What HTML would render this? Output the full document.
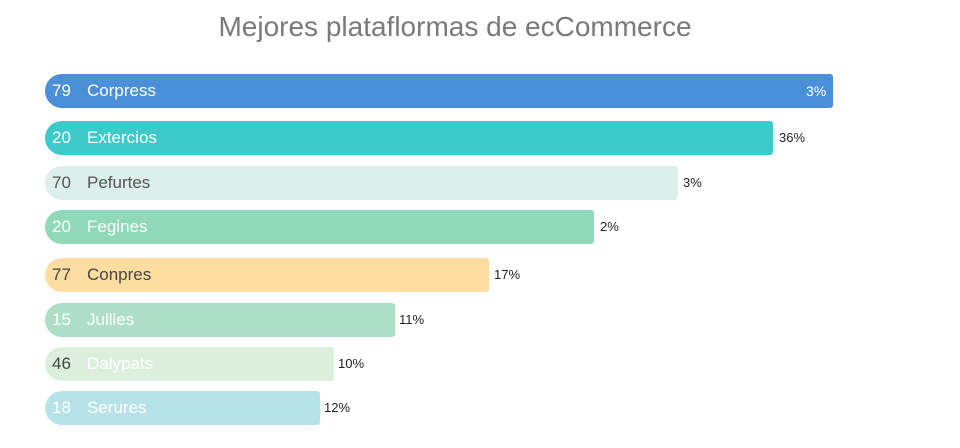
<!DOCTYPE html>
<html><head><style>
body{margin:0;width:960px;height:448px;background:#fff;font-family:"Liberation Sans",sans-serif;position:relative;overflow:hidden}
.t{position:absolute;top:11px;left:0;width:910px;text-align:center;font-size:28px;color:#7a7a7a;font-weight:300}
.b{position:absolute;left:45px;height:34px;border-radius:17px 3px 3px 17px;font-size:17px;line-height:34px}
.b .v{position:absolute;left:7px}
.b .n{position:absolute;left:42px}
.p{position:absolute;font-size:13px;color:#222;line-height:34px}
</style></head><body>
<div class="t">Mejores plataflormas de ecCommerce</div>
<div class="b" style="top:74px;width:788px;background:#4a90d9;color:#fff"><span class="v">79</span><span class="n">Corpress</span></div>
<div class="p" style="top:74px;left:806px;color:#fff;font-size:14px">3%</div>
<div class="b" style="top:121px;width:728px;background:#3ccaca;color:#fff"><span class="v">20</span><span class="n">Extercios</span></div>
<div class="p" style="top:121px;left:779px">36%</div>
<div class="b" style="top:166px;width:633px;background:#dcefeb;color:#555"><span class="v">70</span><span class="n">Pefurtes</span></div>
<div class="p" style="top:166px;left:683px">3%</div>
<div class="b" style="top:210px;width:549px;background:#8fd8b9;color:#fff"><span class="v">20</span><span class="n">Fegines</span></div>
<div class="p" style="top:210px;left:600px">2%</div>
<div class="b" style="top:258px;width:444px;background:#fddda2;color:#444"><span class="v">77</span><span class="n">Conpres</span></div>
<div class="p" style="top:258px;left:494px">17%</div>
<div class="b" style="top:303px;width:350px;background:#acdfc6;color:#fff"><span class="v">15</span><span class="n">Jullles</span></div>
<div class="p" style="top:303px;left:399px">11%</div>
<div class="b" style="top:347px;width:289px;background:#dcefdc;color:#fff"><span class="v" style="color:#444">46</span><span class="n">Dalypats</span></div>
<div class="p" style="top:347px;left:338px">10%</div>
<div class="b" style="top:391px;width:275px;background:#b6e2e8;color:#fff"><span class="v">18</span><span class="n">Serures</span></div>
<div class="p" style="top:391px;left:324px">12%</div>
</body></html>
